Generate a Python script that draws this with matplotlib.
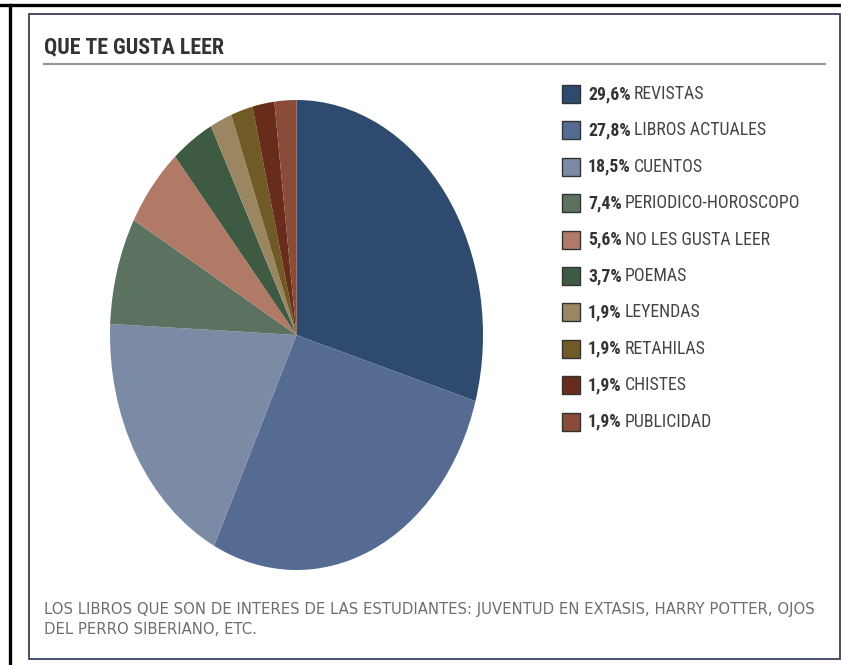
import matplotlib
matplotlib.use("Agg")
import matplotlib.pyplot as plt
from matplotlib.patches import Rectangle
from matplotlib.lines import Line2D
from matplotlib import font_manager

# datos
categorias = ["REVISTAS", "LIBROS ACTUALES", "CUENTOS", "PERIODICO-HOROSCOPO",
              "NO LES GUSTA LEER", "POEMAS", "LEYENDAS", "RETAHILAS",
              "CHISTES", "PUBLICIDAD"]
porcentajes = [29.6, 27.8, 18.5, 7.4, 5.6, 3.7, 1.9, 1.9, 1.9, 1.9]
colores = ["#2E4A6E", "#556B91", "#7B8BA5", "#5B7260", "#B07A66",
           "#3F5A43", "#9A8660", "#705A26", "#682D1A", "#8A4B38"]
titulo = "QUE TE GUSTA LEER"
nota1 = "LOS LIBROS QUE SON DE INTERES DE LAS ESTUDIANTES: JUVENTUD EN EXTASIS, HARRY POTTER, OJOS"
nota2 = "DEL PERRO SIBERIANO, ETC."

W, H = 841, 665
nombres = {f.name for f in font_manager.fontManager.ttflist}
fuente = "DejaVu Sans"
for cand in ["Liberation Sans Narrow", "Roboto Condensed", "Roboto"]:
    if cand in nombres:
        fuente = cand
        break

fig = plt.figure(figsize=(W / 100, H / 100), dpi=100)
fig.patch.set_facecolor("white")
renderer = fig.canvas.get_renderer()


def fx(px):
    return px / W


def fy(py):
    return 1 - py / H


def ajustar(t, ancho):
    # escala el tamaño de letra para que el texto ocupe 'ancho' px
    w = t.get_window_extent(renderer).width
    t.set_fontsize(t.get_fontsize() * ancho / w)


# marcos
fig.add_artist(Line2D([fx(0), fx(W)], [fy(5), fy(5)], color="black", lw=2.4))
fig.add_artist(Line2D([fx(10), fx(10)], [fy(5), fy(H)], color="black", lw=2.4))
fig.add_artist(Rectangle((fx(29), fy(659)), fx(811), 645 / H, fill=False,
                         edgecolor="#3C4260", lw=1.3))

# titulo y linea
tt = fig.text(fx(44), fy(53), titulo, family=fuente, weight="bold", fontsize=12,
              color="#333333", va="baseline", ha="left")
ajustar(tt, 181)
fig.add_artist(Line2D([fx(44), fx(825)], [fy(64), fy(64)], color="#9A9A9A", lw=1.6))

# pastel (eliptico)
ax = fig.add_axes([fx(110), fy(570), 373 / W, 470 / H])
ax.pie(porcentajes, colors=colores, startangle=90, counterclock=False,
       wedgeprops=dict(linewidth=0))
ax.set_aspect("auto")
ax.set_xlim(-1, 1)
ax.set_ylim(-1, 1)
ax.axis("off")

# tamaño de la leyenda segun la fila mas larga
prueba = fig.text(0, 0, "7,4% PERIODICO-HOROSCOPO", family=fuente, fontsize=10)
w = prueba.get_window_extent(renderer).width
prueba.remove()
tam = 10 * 211 / w

for i, (cat, val, col) in enumerate(zip(categorias, porcentajes, colores)):
    yc = 94 + i * 36.4
    fig.add_artist(Rectangle((fx(562), fy(yc + 9)), 18 / W, 18 / H,
                             facecolor=col, edgecolor="#333333", lw=1.0))
    t = fig.text(fx(588), fy(yc), f"{val:.1f}%".replace(".", ","), family=fuente,
                 weight="bold", fontsize=tam, color="#333333", va="center", ha="left")
    bb = t.get_window_extent(renderer)
    fig.text(bb.x1 / W + fx(3), fy(yc), cat, family=fuente, fontsize=tam,
             color="#444444", va="center", ha="left")

# nota
n1 = fig.text(fx(44), fy(614), nota1, family="DejaVu Sans", fontsize=9.5,
              color="#6E6E6E", va="baseline", ha="left")
ajustar(n1, 768)
fig.text(fx(44), fy(634), nota2, family="DejaVu Sans", fontsize=n1.get_fontsize(),
         color="#6E6E6E", va="baseline", ha="left")

fig.savefig("out.png", dpi=100)
